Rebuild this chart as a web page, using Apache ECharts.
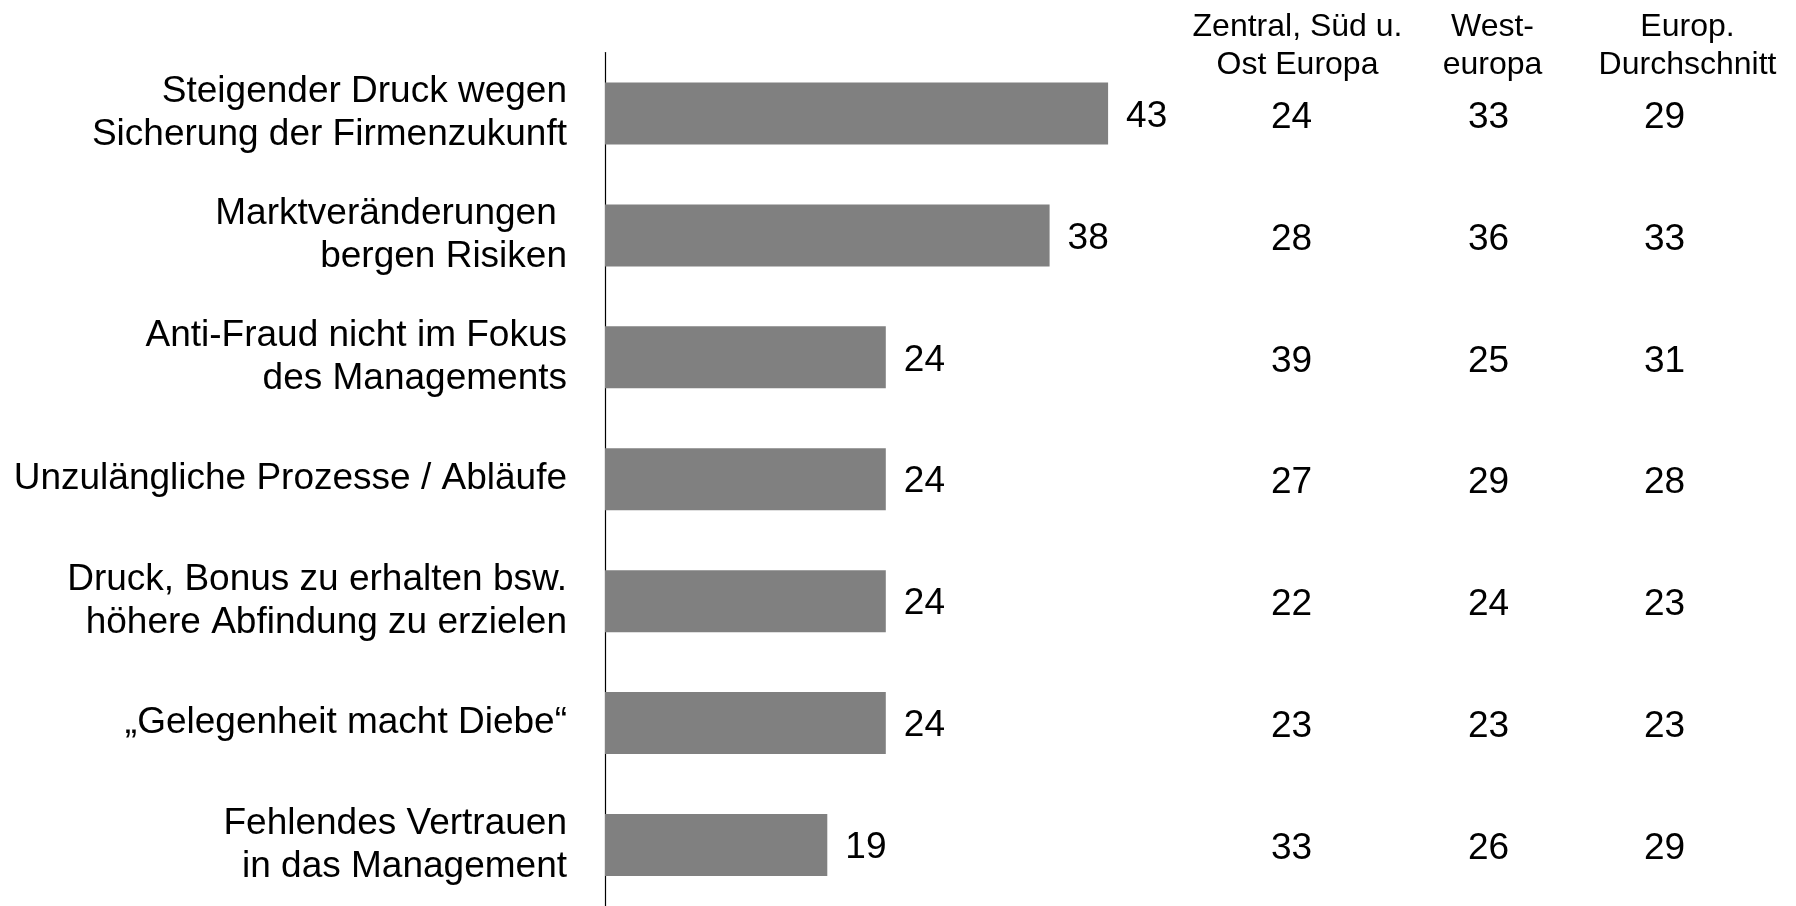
<!DOCTYPE html>
<html>
<head>
<meta charset="utf-8">
<script src="https://cdn.jsdelivr.net/npm/echarts@6/dist/echarts.min.js"></script>
<style>
  html, body { margin: 0; padding: 0; background: #fff; }
  #chart { width: 1796px; height: 906px; }
</style>
</head>
<body>
<div id="chart"></div>
<script>
// Kategorien (von oben nach unten)
const categories = [
    'Steigender Druck wegen\nSicherung der Firmenzukunft',
    'Marktveränderungen \nbergen Risiken',
    'Anti-Fraud nicht im Fokus\ndes Managements',
    'Unzulängliche Prozesse / Abläufe',
    'Druck, Bonus zu erhalten bsw.\nhöhere Abfindung zu erzielen',
    '„Gelegenheit macht Diebe“',
    'Fehlendes Vertrauen\nin das Management'
];
// Balkenwerte
const barValues = [43, 38, 24, 24, 24, 24, 19];

// Tabelle rechts
const tableHeaders = ['Zentral, Süd u.\nOst Europa', 'West-\neuropa', 'Europ.\nDurchschnitt'];
const zsoEuropa = [24, 28, 39, 27, 22, 23, 33];
const westEuropa = [33, 36, 25, 29, 24, 23, 26];
const europaSchnitt = [29, 33, 31, 28, 23, 23, 29];

const font = "'Liberation Sans', Arial, sans-serif";

function tableSeries(values, col, dx) {
    return {
        type: 'scatter',
        xAxisIndex: 1,
        yAxisIndex: 1,
        symbolSize: 0,
        itemStyle: { opacity: 1 },
        data: values.map((v, i) => [col, i, v]),
        label: {
            show: true,
            position: 'inside',
            offset: [dx, 4],
            formatter: p => p.value[2],
            color: '#000',
            opacity: 1,
            fontSize: 37,
            fontFamily: font
        }
    };
}

const chart = echarts.init(document.getElementById('chart'));
chart.setOption({
    animation: false,
    backgroundColor: '#fff',
    grid: [
        { left: 605, top: 52.5, width: 585, height: 874 },
        { left: 1200, top: 52.5, width: 585, height: 874 }
    ],
    xAxis: [
        { gridIndex: 0, type: 'value', min: 0, max: 50, show: false },
        {
            gridIndex: 1,
            type: 'category',
            position: 'top',
            data: tableHeaders,
            axisLine: { show: false },
            axisTick: { show: false },
            splitLine: { show: false },
            axisLabel: {
                margin: -31.5,
                color: '#000',
                fontSize: 32,
                lineHeight: 38,
                fontFamily: font,
                interval: 0
            }
        }
    ],
    yAxis: [
        {
            gridIndex: 0,
            type: 'category',
            inverse: true,
            data: categories,
            axisLine: { show: true, lineStyle: { color: '#000', width: 1.2 } },
            axisTick: { show: false },
            splitLine: { show: false },
            axisLabel: {
                margin: 38,
                color: '#000',
                fontSize: 37,
                lineHeight: 43,
                padding: [4, 0, 0, 0],
                align: 'right',
                fontFamily: font,
                interval: 0
            }
        },
        {
            gridIndex: 1,
            type: 'category',
            inverse: true,
            data: categories,
            show: false
        }
    ],
    series: [
        {
            type: 'bar',
            xAxisIndex: 0,
            yAxisIndex: 0,
            data: barValues,
            barWidth: 62,
            itemStyle: { color: '#808080' },
            label: {
                show: true,
                position: 'right',
                distance: 18,
                offset: [0, 3],
                color: '#000',
                fontSize: 37,
                fontFamily: font
            }
        },
        tableSeries(zsoEuropa, 0, -6),
        tableSeries(westEuropa, 1, -4),
        tableSeries(europaSchnitt, 2, -23)
    ]
});
</script>
</body>
</html>
